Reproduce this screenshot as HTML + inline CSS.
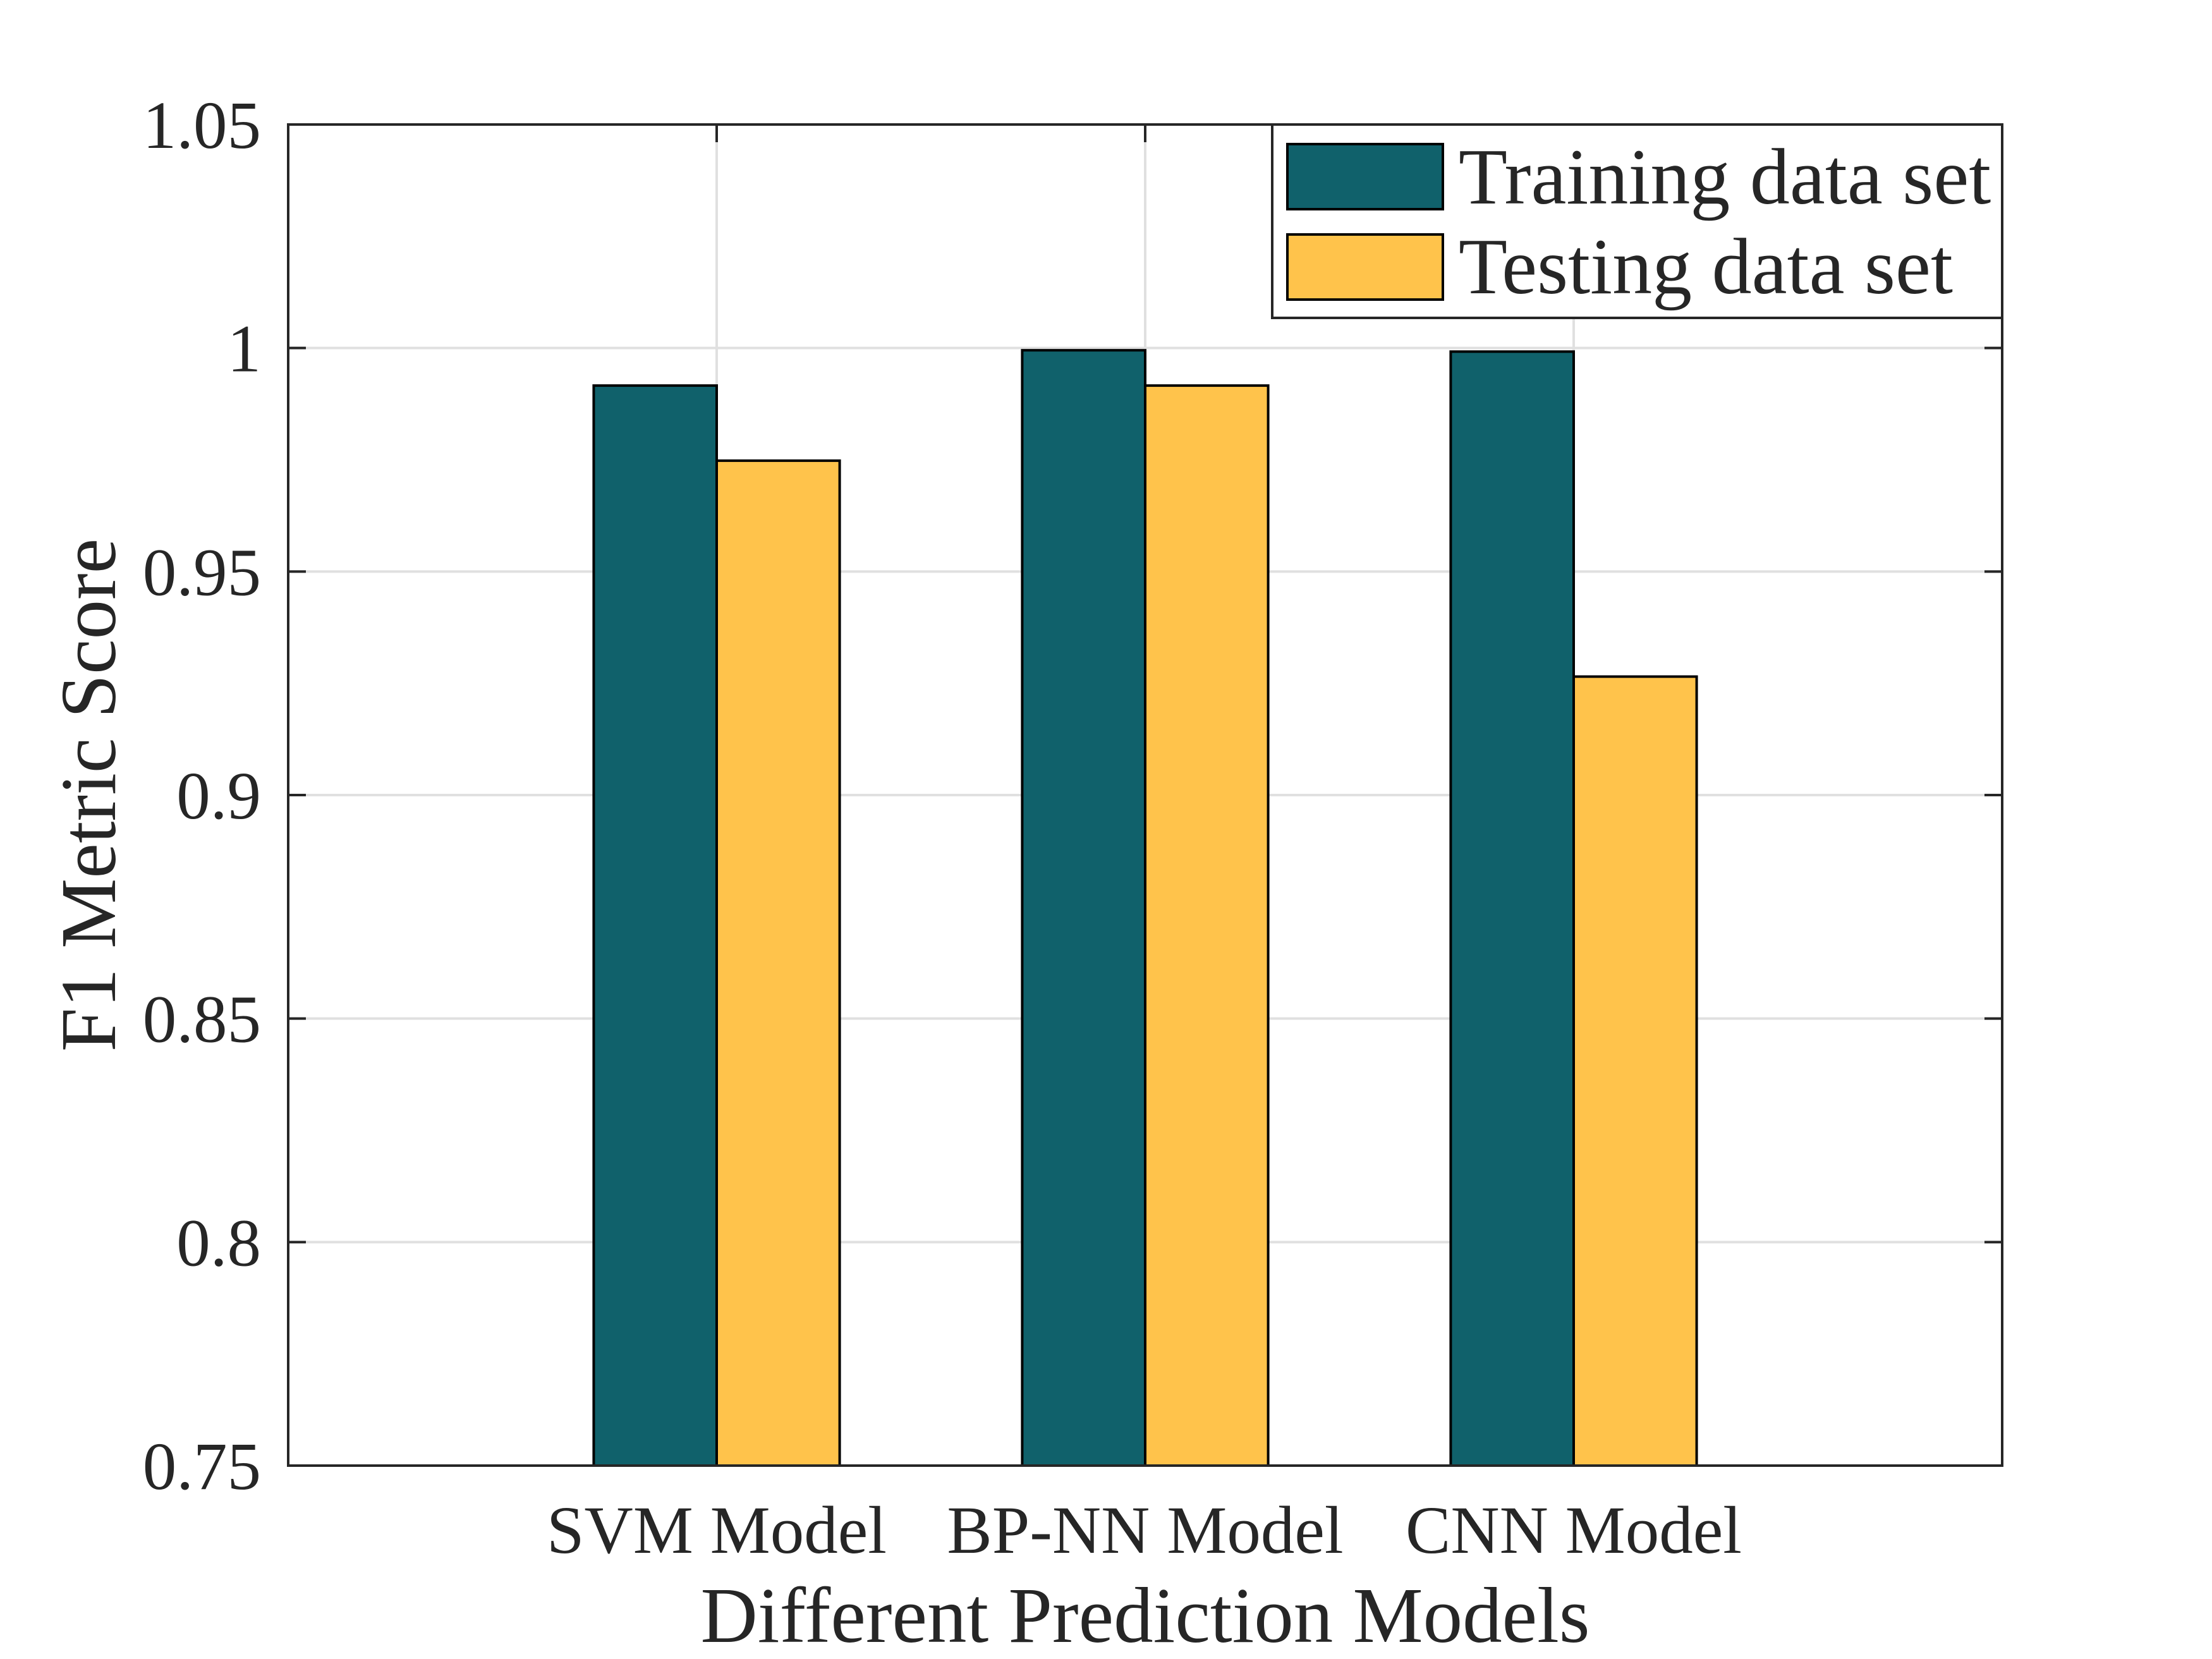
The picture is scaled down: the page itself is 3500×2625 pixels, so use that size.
<!DOCTYPE html>
<html><head><meta charset="utf-8"><style>
html,body{margin:0;padding:0;background:#fff}
svg{display:block}
text{font-family:"Liberation Serif",serif;fill:#262626}
</style></head><body>
<svg id="chart" width="3500" height="2625" viewBox="0 0 3500 2625">
<g id="grid"></g>
<g id="bars"></g>
<g id="axes"></g>
<text x="1812" y="2598" font-size="125" text-anchor="middle">Different Prediction Models</text>
<text transform="translate(182,1258) rotate(-90)" font-size="125" text-anchor="middle">F1 Metric Score</text>
<g>
<rect x="2013" y="197" width="1155" height="306" fill="#fff" stroke="#262626" stroke-width="4"/>
<g>
<rect x="2037" y="228" width="246" height="103" fill="#10616b" stroke="#000" stroke-width="4"/>
<text x="2308" y="322" font-size="126" fill="#000">Training data set</text>
</g>
<g>
<rect x="2037" y="371" width="246" height="103" fill="#ffc34b" stroke="#000" stroke-width="4"/>
<text x="2308" y="464" font-size="126" fill="#000">Testing data set</text>
</g>
</g>
</svg>
<script>
const categories = ["SVM Model", "BP-NN Model", "CNN Model"];
const trainValues = [0.9916, 0.9995, 0.9992];
const testValues = [0.9748, 0.9916, 0.9265];
const yTicks = [0.75, 0.8, 0.85, 0.9, 0.95, 1, 1.05];
const yTickLabels = ["0.75", "0.8", "0.85", "0.9", "0.95", "1", "1.05"];

const L=456, R=3168, T=197, B=2319;
const xMin=0, xMax=4, yMin=0.75, yMax=1.05;
const xs = v => L + (v - xMin) / (xMax - xMin) * (R - L);
const ys = v => B - (v - yMin) / (yMax - yMin) * (B - T);
const NS = "http://www.w3.org/2000/svg";
function mk(tag, attrs, parent){const e=document.createElementNS(NS,tag);for(const k in attrs)e.setAttribute(k,attrs[k]);parent.appendChild(e);return e;}
const grid=document.getElementById('grid'), bars=document.getElementById('bars'), axes=document.getElementById('axes');
const barW = 0.287;

yTicks.forEach((t,i)=>{
  const y=ys(t);
  const g=mk('line',{x1:L,x2:R,y1:y,y2:y,stroke:'#e0e0e0','stroke-width':4},grid);
  
  
  const t1=mk('line',{x1:L,x2:L+28,y1:y,y2:y,stroke:'#262626','stroke-width':4},axes);
  
  
  const t2=mk('line',{x1:R-28,x2:R,y1:y,y2:y,stroke:'#262626','stroke-width':4},axes);
  
  
  const lb=mk('text',{x:413,y:y+37,'font-size':107,'text-anchor':'end'},axes);
  lb.textContent=yTickLabels[i];
  
  
});
categories.forEach((c,i)=>{
  const cx=xs(i+1);
  const g=mk('line',{x1:cx,x2:cx,y1:T,y2:B,stroke:'#e0e0e0','stroke-width':4},grid);
  
  
  const tk=mk('line',{x1:cx,x2:cx,y1:T,y2:T+28,stroke:'#262626','stroke-width':4},axes);
  
  
  const b1=mk('rect',{x:xs(i+1-barW),y:ys(trainValues[i]),width:xs(barW)-xs(0),height:B-ys(trainValues[i]),fill:'#10616b',stroke:'#000','stroke-width':4},bars);
  
  
  const b2=mk('rect',{x:cx,y:ys(testValues[i]),width:xs(barW)-xs(0),height:B-ys(testValues[i]),fill:'#ffc34b',stroke:'#000','stroke-width':4},bars);
  
  
  const lb=mk('text',{x:cx,y:2457,'font-size':107,'text-anchor':'middle'},axes);
  lb.textContent=c;
  
  
});
const frame=mk('rect',{x:L,y:T,width:R-L,height:B-T,fill:'none',stroke:'#262626','stroke-width':4},axes);


</script>
</body></html>
